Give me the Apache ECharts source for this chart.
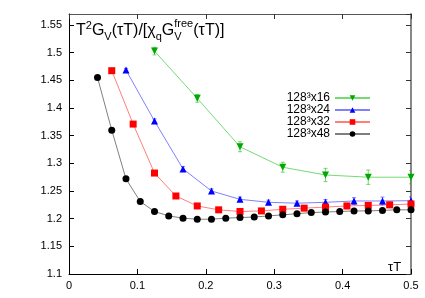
<!DOCTYPE html>
<html>
<head>
<meta charset="utf-8">
<script src="https://cdn.jsdelivr.net/npm/echarts@6/dist/echarts.min.js"></script>
<style>html,body{margin:0;padding:0;background:#fff}#c{width:425px;height:298px}</style>
</head>
<body>
<div id="c"></div>
<script>
const xTicks = [0, 0.1, 0.2, 0.3, 0.4, 0.5];
const yTicks = [1.1, 1.15, 1.2, 1.25, 1.3, 1.35, 1.4, 1.45, 1.5, 1.55];

const names = ['128³x16', '128³x24', '128³x32', '128³x48'];

const tau16 = [0.125, 0.1875, 0.25, 0.3125, 0.375, 0.4375, 0.5];
const g16 = [1.503, 1.4175, 1.330, 1.293, 1.279, 1.275, 1.275];
const e16 = [0.007, 0.007, 0.009, 0.009, 0.012, 0.013, 0.012];

const tau24 = [0.0833, 0.125, 0.1667, 0.2083, 0.25, 0.2917, 0.3333, 0.375, 0.4167, 0.4583, 0.5];
const g24 = [1.4687, 1.3765, 1.290, 1.250, 1.235, 1.2296, 1.228, 1.2296, 1.232, 1.232, 1.2325];
const e24 = [0.003, 0.004, 0.004, 0.004, 0.004, 0.004, 0.004, 0.005, 0.006, 0.007, 0.007];

const tau32 = [0.0625, 0.0938, 0.125, 0.1563, 0.1875, 0.2188, 0.25, 0.2813, 0.3125, 0.3438, 0.375, 0.4063, 0.4375, 0.4688, 0.5];
const g32 = [1.4675, 1.371, 1.2825, 1.241, 1.223, 1.216, 1.213, 1.214, 1.217, 1.219, 1.221, 1.223, 1.224, 1.225, 1.2265];
const e32 = [0.002, 0.002, 0.002, 0.003, 0.003, 0.003, 0.003, 0.003, 0.004, 0.004, 0.004, 0.005, 0.005, 0.005, 0.005];

const tau48 = [0.0417, 0.0625, 0.0833, 0.1042, 0.125, 0.1458, 0.1667, 0.1875, 0.2083, 0.2292, 0.25, 0.2708, 0.2917, 0.3125, 0.3333, 0.3542, 0.375, 0.3958, 0.4167, 0.4375, 0.4583, 0.4792, 0.5];
const g48 = [1.455, 1.360, 1.272, 1.231, 1.213, 1.205, 1.201, 1.199, 1.199, 1.201, 1.202, 1.203, 1.205, 1.207, 1.209, 1.211, 1.212, 1.213, 1.214, 1.214, 1.215, 1.216, 1.216];
const e48 = [0.002, 0.002, 0.002, 0.002, 0.002, 0.002, 0.002, 0.002, 0.002, 0.002, 0.003, 0.003, 0.003, 0.003, 0.003, 0.003, 0.003, 0.003, 0.003, 0.003, 0.003, 0.003, 0.003];

const FONT = 'Liberation Sans, Arial, sans-serif';
const MAIN = 16, SUB = 11;

const sets = [
  {name: names[0], tau: tau16, g: g16, e: e16, c: '#00a800', lc: 'rgba(0,190,0,0.55)', sym: 'triangle', rot: 180, size: 7},
  {name: names[1], tau: tau24, g: g24, e: e24, c: '#0000ff', lc: 'rgba(0,0,255,0.5)', sym: 'triangle', rot: 0, size: 7},
  {name: names[2], tau: tau32, g: g32, e: e32, c: '#ff0000', lc: 'rgba(255,0,0,0.5)', sym: 'rect', rot: 0, size: 7},
  {name: names[3], tau: tau48, g: g48, e: e48, c: '#000000', lc: 'rgba(0,0,0,0.5)', sym: 'circle', rot: 0, size: 7}
];

// measure title fragments for placing the stacked "free" superscript
const cv = document.createElement('canvas').getContext('2d');
function tw(t, sz) { cv.font = sz + 'px ' + FONT; return cv.measureText(t).width; }
const TITLE_X = 76, TITLE_Y = 20;
const freeW = tw('free', SUB);
const freeX = TITLE_X + tw('T', MAIN) + tw('2', SUB) + tw('G', MAIN) + tw('V', SUB) +
  tw('(τT)/[χ', MAIN) + tw('q', SUB) + tw('G', MAIN);

const series = [];
sets.forEach(s => {
  series.push({
    type: 'custom',
    name: s.name + '_err',
    data: s.tau.map((t, i) => [t, s.g[i], s.e[i]]),
    clip: true,
    z: 2,
    renderItem: function (params, api) {
      const x = api.value(0), y = api.value(1), e = api.value(2);
      const p1 = api.coord([x, y - e]);
      const p2 = api.coord([x, y + e]);
      const w = 2;
      const st = {stroke: s.lc, lineWidth: 1};
      return {
        type: 'group',
        children: [
          {type: 'line', shape: {x1: p1[0], y1: p1[1], x2: p2[0], y2: p2[1]}, style: st},
          {type: 'line', shape: {x1: p1[0] - w, y1: p1[1], x2: p1[0] + w, y2: p1[1]}, style: st},
          {type: 'line', shape: {x1: p2[0] - w, y1: p2[1], x2: p2[0] + w, y2: p2[1]}, style: st}
        ]
      };
    }
  });
  series.push({
    type: 'line',
    name: s.name,
    data: s.tau.map((t, i) => [t, s.g[i]]),
    symbol: s.sym,
    symbolRotate: s.rot,
    symbolSize: s.size,
    showAllSymbol: true,
    lineStyle: {color: s.lc, width: 1},
    itemStyle: {color: s.c},
    z: 3,
    animation: false
  });
});

const chart = echarts.init(document.getElementById('c'), null, {renderer: 'canvas'});
chart.setOption({
  animation: false,
  backgroundColor: '#fff',
  grid: {left: 69, right: 14, top: 14, bottom: 24},
  title: {
    text: '{m|T}{sp|2}{m|G}{sb|V}{m|(τT)/[χ}{sb|q}{m|G}{sbw|V}{m|(τT)]}',
    left: TITLE_X, top: TITLE_Y, padding: 0,
    textStyle: {
      fontWeight: 'normal',
      rich: {
        m: {fontSize: MAIN, fontWeight: 'normal', fontFamily: FONT, color: '#000', lineHeight: 22, verticalAlign: 'middle'},
        sp: {fontSize: SUB, fontWeight: 'normal', fontFamily: FONT, color: '#000', lineHeight: 11, verticalAlign: 'top'},
        sb: {fontSize: SUB, fontWeight: 'normal', fontFamily: FONT, color: '#000', lineHeight: 11, verticalAlign: 'bottom'},
        sbw: {fontSize: SUB, fontWeight: 'normal', fontFamily: FONT, color: '#000', lineHeight: 11, verticalAlign: 'bottom', width: freeW, align: 'left'}
      }
    }
  },
  graphic: [
    {type: 'text', x: freeX, y: TITLE_Y - 2, style: {text: 'free', font: SUB + 'px ' + FONT, fill: '#000'}},
    {type: 'text', left: 388, top: 261, style: {text: 'τT', font: '13px ' + FONT, fill: '#000'}}
  ],
  legend: {
    data: names,
    orient: 'vertical',
    align: 'right',
    right: 54,
    top: 92,
    itemWidth: 35,
    itemHeight: 7,
    itemGap: 0,
    padding: 0,
    textStyle: {fontSize: 12, fontFamily: FONT, color: '#000', lineHeight: 12}
  },
  xAxis: [
    {
      type: 'value', min: 0, max: 0.5, interval: 0.1, position: 'bottom',
      axisLine: {show: true, onZero: false, lineStyle: {color: '#000', width: 1}},
      axisTick: {show: true, inside: true, length: 5, lineStyle: {color: '#000'}},
      axisLabel: {show: true, fontSize: 11, fontFamily: FONT, color: '#000', margin: 6},
      splitLine: {show: false}
    },
    {
      type: 'value', min: 0, max: 0.5, interval: 0.1, position: 'top',
      axisLine: {show: true, onZero: false, lineStyle: {color: '#555', width: 1}},
      axisTick: {show: true, inside: true, length: 5, lineStyle: {color: '#333'}},
      axisLabel: {show: false},
      splitLine: {show: false}
    }
  ],
  yAxis: [
    {
      type: 'value', min: 1.1, max: 1.57, interval: 0.05, position: 'left',
      axisLine: {show: true, onZero: false, lineStyle: {color: '#000', width: 1}},
      axisTick: {show: true, inside: true, length: 5, lineStyle: {color: '#000'}},
      axisLabel: {show: true, fontSize: 11, fontFamily: FONT, color: '#000', margin: 7, showMaxLabel: false},
      splitLine: {show: false}
    },
    {
      type: 'value', min: 1.1, max: 1.57, interval: 0.05, position: 'right',
      axisLine: {show: true, onZero: false, lineStyle: {color: '#888', width: 2}},
      axisTick: {show: true, inside: true, length: 5, lineStyle: {color: '#333'}},
      axisLabel: {show: false},
      splitLine: {show: false}
    }
  ],
  series: series
});
</script>
</body>
</html>
